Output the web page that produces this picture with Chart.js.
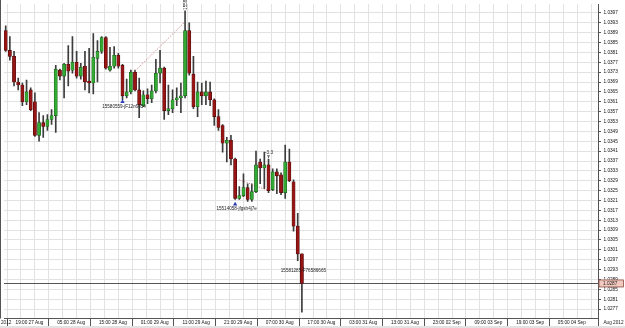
<!DOCTYPE html>
<html><head><meta charset="utf-8">
<script src="https://cdn.jsdelivr.net/npm/chart.js@4.4.0/dist/chart.umd.min.js"></script>
<style>html,body{margin:0;padding:0;background:#fff;overflow:hidden}#wrap{width:625px;height:328px}</style>
</head><body><div id="wrap"><canvas id="c" width="625" height="328"></canvas></div>
<script>
// ---- data (hourly candles) ----
const opens  = [1.03898,1.03818,1.03794,1.03690,1.03678,1.03610,1.03658,1.03610,1.03474,1.03526,1.03510,1.03538,1.03554,1.03738,1.03714,1.03762,1.03738,1.03770,1.03714,1.03754,1.03694,1.03686,1.03786,1.03814,1.03870,1.03738,1.03754,1.03798,1.03758,1.03634,1.03650,1.03730,1.03658,1.03594,1.03638,1.03622,1.03654,1.03726,1.03746,1.03574,1.03582,1.03618,1.03626,1.03634,1.03898,1.03722,1.03590,1.03650,1.03634,1.03650,1.03618,1.03550,1.03514,1.03442,1.03454,1.03378,1.03218,1.03230,1.03262,1.03214,1.03246,1.03366,1.03342,1.03354,1.03254,1.03326,1.03314,1.03242,1.03366,1.03286,1.03106,1.02994];
const highs  = [1.03918,1.03874,1.03814,1.03706,1.03686,1.03698,1.03666,1.03646,1.03566,1.03554,1.03558,1.03578,1.03758,1.03742,1.03766,1.03838,1.03874,1.03814,1.03766,1.03814,1.03826,1.03886,1.03858,1.03874,1.03874,1.03830,1.03834,1.03806,1.03762,1.03702,1.03738,1.03738,1.03706,1.03654,1.03662,1.03678,1.03782,1.03818,1.03750,1.03678,1.03658,1.03666,1.03686,1.03978,1.03930,1.03794,1.03690,1.03686,1.03694,1.03690,1.03622,1.03578,1.03518,1.03466,1.03474,1.03382,1.03266,1.03318,1.03278,1.03278,1.03410,1.03378,1.03406,1.03378,1.03338,1.03338,1.03322,1.03434,1.03418,1.03294,1.03158,1.02994];
const lows   = [1.03814,1.03778,1.03674,1.03658,1.03594,1.03598,1.03574,1.03470,1.03450,1.03466,1.03494,1.03518,1.03486,1.03698,1.03626,1.03674,1.03726,1.03706,1.03702,1.03658,1.03646,1.03642,1.03690,1.03806,1.03742,1.03734,1.03746,1.03746,1.03618,1.03626,1.03642,1.03654,1.03546,1.03590,1.03602,1.03606,1.03646,1.03686,1.03538,1.03558,1.03566,1.03594,1.03566,1.03626,1.03718,1.03582,1.03550,1.03598,1.03598,1.03594,1.03514,1.03494,1.03406,1.03366,1.03354,1.03214,1.03214,1.03226,1.03206,1.03206,1.03242,1.03278,1.03258,1.03242,1.03250,1.03238,1.03234,1.03218,1.03286,1.03086,1.02966,1.02758];
const closes = [1.03818,1.03794,1.03690,1.03678,1.03610,1.03650,1.03578,1.03474,1.03526,1.03510,1.03538,1.03554,1.03742,1.03714,1.03762,1.03734,1.03770,1.03714,1.03750,1.03690,1.03686,1.03790,1.03814,1.03870,1.03746,1.03754,1.03798,1.03754,1.03634,1.03650,1.03730,1.03658,1.03598,1.03638,1.03622,1.03654,1.03726,1.03746,1.03574,1.03582,1.03618,1.03626,1.03634,1.03898,1.03726,1.03590,1.03650,1.03634,1.03650,1.03618,1.03550,1.03506,1.03442,1.03454,1.03378,1.03218,1.03230,1.03262,1.03214,1.03246,1.03354,1.03342,1.03354,1.03250,1.03326,1.03310,1.03242,1.03366,1.03290,1.03106,1.02994,1.02874];

const xTickLabels = ['19:00 27 Aug','05:00 28 Aug','15:00 28 Aug','01:00 29 Aug','11:00 29 Aug','21:00 29 Aug','07:00 30 Aug','17:00 30 Aug','03:00 31 Aug','13:00 31 Aug','23:00 02 Sep','09:00 03 Sep','19:00 03 Sep','05:00 04 Sep'];
const yTickValues = [1.0277,1.0281,1.0285,1.0289,1.0293,1.0297,1.0301,1.0305,1.0309,1.0313,1.0317,1.0321,1.0325,1.0329,1.0333,1.0337,1.0341,1.0345,1.0349,1.0353,1.0357,1.0361,1.0365,1.0369,1.0373,1.0377,1.0381,1.0385,1.0389,1.0393,1.0397];

// trade markers
const markerIdx   = [28, 55, 71];
const markerPrice = [1.03610, 1.03195, 1.02942];
const markerText  = ['15580559-jF12n6054', '15514058-jfgsh4j7e', '15581285-F76586665'];
// dotted trade lines: [index, price] pairs
const tradeLine1 = [[31, 1.03734], [43, 1.03934]];
const tradeLine2 = [[56, 1.03294], [63, 1.03250]];
const noteIdx = 63, noteText = '-3.3';
const topNoteIdx = 43, topNoteText = '15581';

// ---- axis ranges ----
const xMin = -0.405, xMax = 141.98;
const yMin = 1.02732, yMax = 1.04006;
const firstLabelIdx = 2, labelStep = 10, gridPerLabel = 3;

const idx = opens.map((_, i) => i);
const up = idx.map(i => closes[i] >= opens[i]);
const FONT = 'Liberation Sans, Arial, sans-serif';

const overlay = {
  id: 'overlay',
  beforeDraw(chart) {
    const c = chart.ctx;
    c.save();
    c.fillStyle = '#fff'; c.fillRect(0, 0, chart.width, chart.height);
    c.fillStyle = '#e2e2e2'; c.fillRect(0, 326, chart.width, 2);
    c.restore();
  },
  beforeDatasetsDraw(chart) {
    const c = chart.ctx, a = chart.chartArea, ys = chart.scales.y;
    const py = Math.round(ys.getPixelForValue(closes[closes.length - 1])) + 0.5;
    c.save();
    c.strokeStyle = '#555'; c.lineWidth = 1;
    c.beginPath(); c.moveTo(a.left, py); c.lineTo(a.right, py); c.stroke();
    c.restore();
  },
  afterDatasetsDraw(chart) {
    const c = chart.ctx, xs = chart.scales.x, ys = chart.scales.y;
    c.save();
    c.font = '4.6px ' + FONT; c.fillStyle = '#222';
    c.textAlign = 'center'; c.textBaseline = 'middle';
    markerIdx.forEach((m, k) => {
      c.fillText(markerText[k], xs.getPixelForValue(m) + 1.5, ys.getPixelForValue(markerPrice[k]) + 4.5);
    });
    const nx = xs.getPixelForValue(noteIdx), ny = ys.getPixelForValue(highs[noteIdx]);
    c.fillText(noteText, nx + 0.5, ny - 6);
    c.strokeStyle = '#444'; c.lineWidth = 0.8;
    c.beginPath(); c.moveTo(nx - 1.5, ny - 3.2); c.lineTo(nx + 1.5, ny - 3.2);
    c.moveTo(nx, ny - 3.2); c.lineTo(nx, ny - 1); c.stroke();
    const tx = xs.getPixelForValue(topNoteIdx) + 1, tyy = ys.getPixelForValue(highs[topNoteIdx]);
    c.translate(tx, tyy - 1); c.rotate(-Math.PI / 2);
    c.textAlign = 'left'; c.fillText(topNoteText, 0, 0);
    c.restore();
  },
  afterDraw(chart) {
    const c = chart.ctx, a = chart.chartArea, ys = chart.scales.y;
    c.save();
    c.strokeStyle = '#555'; c.lineWidth = 1;
    c.beginPath(); c.moveTo(0.5, 0); c.lineTo(0.5, a.bottom); c.stroke();
    c.beginPath(); c.moveTo(a.right + 0.5, a.bottom); c.lineTo(a.right + 0.5, 326); c.stroke();
    const last = closes[closes.length - 1];
    const py = ys.getPixelForValue(last);
    c.fillStyle = '#f2c9bf'; c.fillRect(a.right + 1, py - 3.5, 24.5, 7);
    c.strokeStyle = '#8a4a40'; c.lineWidth = 0.8; c.strokeRect(a.right + 1, py - 3.5, 24.5, 7);
    c.fillStyle = '#222'; c.font = '4.7px ' + FONT; c.textBaseline = 'middle';
    c.textAlign = 'left';
    c.fillText(last.toFixed(4), a.right + 5, py + 0.3);
    c.fillText('2012', 1, 322.6);
    c.textAlign = 'right';
    c.fillText('Aug 2012', chart.width - 1.5, 322.6);
    c.restore();
  }
};

new Chart(document.getElementById('c'), {
  type: 'bar',
  data: {
    datasets: [
      {
        type: 'bar', label: 'body', grouped: false, order: 0,
        data: idx.map(i => ({ x: i, y: [Math.min(opens[i], closes[i]), Math.max(opens[i], closes[i])] })),
        backgroundColor: idx.map(i => up[i] ? '#33aa33' : '#981515'),
        borderColor: idx.map(i => up[i] ? '#1d5e1d' : '#4a0808'),
        borderWidth: 0.6, borderSkipped: false, barThickness: 3.2, minBarLength: 1.5
      },
      {
        type: 'scatter', label: 'markers', order: 1,
        data: markerIdx.map((m, k) => ({ x: m, y: markerPrice[k] })),
        pointStyle: 'triangle', radius: 2.5, backgroundColor: '#2b3bb5', borderWidth: 0
      },
      {
        type: 'line', label: 'trade1', order: 2,
        data: tradeLine1.map(p => ({ x: p[0], y: p[1] })),
        borderColor: '#c87070', borderWidth: 1, borderDash: [1, 1.6], pointRadius: 0
      },
      {
        type: 'line', label: 'trade2', order: 3,
        data: tradeLine2.map(p => ({ x: p[0], y: p[1] })),
        borderColor: '#c87070', borderWidth: 1, borderDash: [1, 1.6], pointRadius: 0
      },
      {
        type: 'bar', label: 'wick', grouped: false, order: 4,
        data: idx.map(i => ({ x: i, y: [lows[i], highs[i]] })),
        backgroundColor: '#3c3c3c', borderWidth: 0, barThickness: 1
      }
    ]
  },
  options: {
    responsive: false, animation: false, devicePixelRatio: 1,
    layout: { padding: { left: 0, right: 0, top: 0, bottom: 2 } },
    plugins: { legend: { display: false }, tooltip: { enabled: false } },
    scales: {
      x: {
        type: 'linear', min: xMin, max: xMax, offset: false,
        afterBuildTicks(s) {
          const t = [];
          for (let k = 0; ; k++) {
            const v = firstLabelIdx + k * labelStep / gridPerLabel;
            if (v > xMax - 0.05) break;
            t.push({ value: v });
          }
          s.ticks = t;
        },
        afterFit(s) { s.height = 7.5; s.paddingLeft = 0; s.paddingRight = 0; },
        grid: {
          color: '#e2e2e2', lineWidth: 1, drawTicks: true, tickLength: 7.5,
          tickColor: c => (c.index % gridPerLabel === 0 ? '#555' : 'rgba(0,0,0,0)')
        },
        border: { display: true, color: '#555', width: 1 },
        ticks: {
          autoSkip: false, maxRotation: 0, minRotation: 0, align: 'start',
          labelOffset: 1.5, padding: -6.3, color: '#111',
          font: { family: FONT, size: 4.7 },
          callback: (v, i) => (i % gridPerLabel === 0 ? (xTickLabels[i / gridPerLabel] || '') : '')
        }
      },
      y: {
        type: 'linear', position: 'right', min: yMin, max: yMax,
        afterBuildTicks(s) { s.ticks = yTickValues.map(v => ({ value: v })); },
        afterFit(s) { s.width = 27; s.paddingTop = 0; s.paddingBottom = 0; },
        grid: { color: '#e2e2e2', lineWidth: 1, tickLength: 3, tickColor: '#555' },
        border: { display: true, color: '#555', width: 1 },
        ticks: { padding: 2.5, color: '#111', font: { family: FONT, size: 4.7 }, callback: v => v.toFixed(4) }
      }
    }
  },
  plugins: [overlay]
});
</script>
</body></html>
